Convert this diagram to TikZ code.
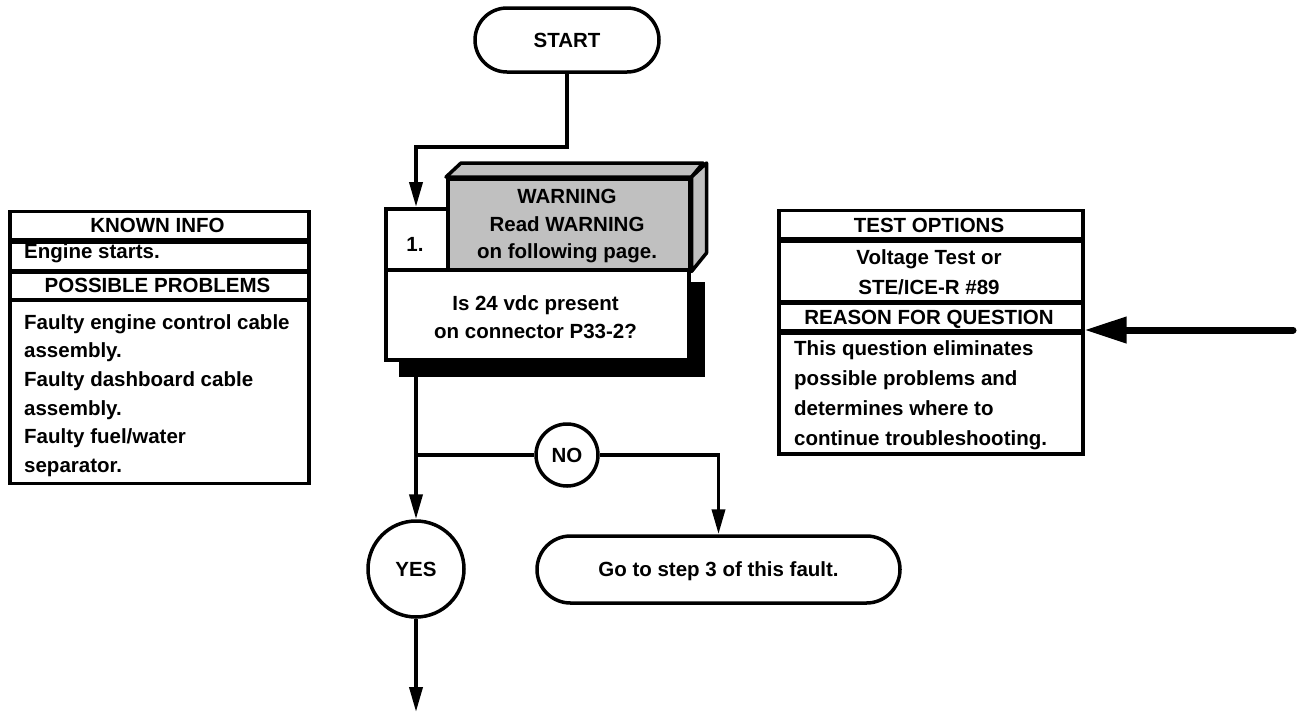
\documentclass[tikz,border=0pt]{standalone}
\usepackage{fontspec}
\setmainfont{Liberation Sans}
\usetikzlibrary{shapes.misc,arrows.meta}
\definecolor{wgrey}{RGB}{192,192,192}
\begin{document}
\begin{tikzpicture}[x=1pt,y=-1pt,
  cell/.style={draw, line width=3.5pt, rectangle, inner sep=0pt, anchor=north west, fill=white},
  tx/.style={font=\fontsize{20.5}{24}\selectfont\bfseries, inner sep=0pt},
  conn/.style={line width=3.8pt},
  arr/.style={line width=3.8pt, -{Triangle[length=25pt,width=13pt]}},
  bigarr/.style={line width=7pt, line cap=round, -{Triangle[length=42pt,width=25pt]}},
  capsule/.style={draw, line width=3.5pt, rounded rectangle, inner sep=0pt, fill=white, font=\fontsize{20.5}{24}\selectfont\bfseries},
  ring/.style={draw, circle, line width=3.5pt, inner sep=0pt, fill=white, font=\fontsize{20.5}{24}\selectfont\bfseries},
]
\useasboundingbox (0,0) rectangle (1301,713);

% ---------- left table ----------
\node[cell, minimum width=299pt, minimum height=28pt] (k1) at (8,209.5) {};
\node[cell, minimum width=299pt, minimum height=28.5pt] (k2) at (8,240) {};
\node[cell, minimum width=299pt, minimum height=27.5pt] (k3) at (8,270.5) {};
\node[cell, minimum width=299pt, minimum height=183.5pt] (k4) at (8,298) {};
\node[tx, anchor=base] (tk1) at (157.5,232) {KNOWN INFO};
\node[tx, anchor=base west] (tk2) at (24,258.5) {Engine starts.};
\node[tx, anchor=base] (tk3) at (157.5,292) {POSSIBLE PROBLEMS};
\node[tx, anchor=base west] (tp1) at (24,329) {Faulty engine control cable};
\node[tx, anchor=base west] (tp2) at (24,357.5) {assembly.};
\node[tx, anchor=base west] (tp3) at (24,386) {Faulty dashboard cable};
\node[tx, anchor=base west] (tp4) at (24,415) {assembly.};
\node[tx, anchor=base west] (tp5) at (24,443) {Faulty fuel/water};
\node[tx, anchor=base west] (tp6) at (24,472) {separator.};

% ---------- right table ----------
\node[cell, minimum width=304pt, minimum height=28.5pt] (t1) at (777,208.5) {};
\node[cell, minimum width=304pt, minimum height=61pt] (t2) at (777,239) {};
\node[cell, minimum width=304pt, minimum height=28pt] (t3) at (777,301) {};
\node[cell, minimum width=304pt, minimum height=121pt] (t4) at (777,331) {};
\node[tx, anchor=base] (tt1) at (929,232.5) {TEST OPTIONS};
\node[tx, anchor=base] (tt2) at (929,264) {Voltage Test or};
\node[tx, anchor=base] (tt3) at (929,294) {STE/ICE-R \#89};
\node[tx, anchor=base] (tt4) at (929,324) {REASON FOR QUESTION};
\node[tx, anchor=base west] (tr1) at (794,355.5) {This question eliminates};
\node[tx, anchor=base west] (tr2) at (794,385.5) {possible problems and};
\node[tx, anchor=base west] (tr3) at (794,415.5) {determines where to};
\node[tx, anchor=base west] (tr4) at (794,445.5) {continue troubleshooting.};

% ---------- step block ----------
\node[fill=black, inner sep=0pt, anchor=north west, minimum width=306pt, minimum height=95pt] (shadow) at (399,282) {};
\node[cell, minimum width=303pt, minimum height=90pt] (q) at (384,268) {};
\node[cell, minimum width=62pt, minimum height=61pt] (one) at (384,207) {};
\node[cell, fill=wgrey, minimum width=242pt, minimum height=91pt] (warn) at (446,177) {};
\draw[line width=3.5pt, fill=wgrey, line join=round] (warn.north west) -- ++(15,-14) -- ++(242,0) -- (warn.north east) -- cycle;
\draw[line width=3.5pt, fill=wgrey, line join=round] (warn.north east) -- ++(15,-14) -- ++(0,90) -- (warn.south east) -- cycle;
\node[tx, anchor=base] (w1) at (567,203.5) {WARNING};
\node[tx, anchor=base] (w2) at (567,231) {Read WARNING};
\node[tx, anchor=base] (w3) at (567,258.5) {on following page.};
\node[tx, anchor=base] (n1) at (415,251) {1.};
\node[tx, anchor=base] (q1) at (535.5,310) {Is 24 vdc present};
\node[tx, anchor=base] (q2) at (535.5,338) {on connector P33-2?};

% ---------- terminals and decisions ----------
\node[capsule, minimum width=184pt, minimum height=64pt] (start) at (567,40) {START};
\node[capsule, minimum width=363pt, minimum height=67pt, text depth=0pt] (go) at (718.5,569.5) {Go to step 3 of this fault.};
\node[ring, minimum size=62pt] (no) at (567,455) {NO};
\node[ring, minimum size=96pt] (yes) at (416,569) {YES};

% ---------- connectors ----------
\coordinate (b1) at (416,147);
\coordinate (j) at (416,455);
\coordinate (endp) at (416,712);
\coordinate (rin) at (1293,330);
\draw[arr] (start.south) |- (b1) -- (b1 |- one.north);
\draw[conn] (shadow.south -| j) -- (j);
\draw[arr] (j) -- (yes.north);
\draw[conn] (j) -- (no.west);
\draw[arr] (no.east) -| (go.north);
\draw[arr] (yes.south) -- (endp);
\draw[bigarr] (rin) -- (rin -| t3.east);
\end{tikzpicture}
\end{document}
